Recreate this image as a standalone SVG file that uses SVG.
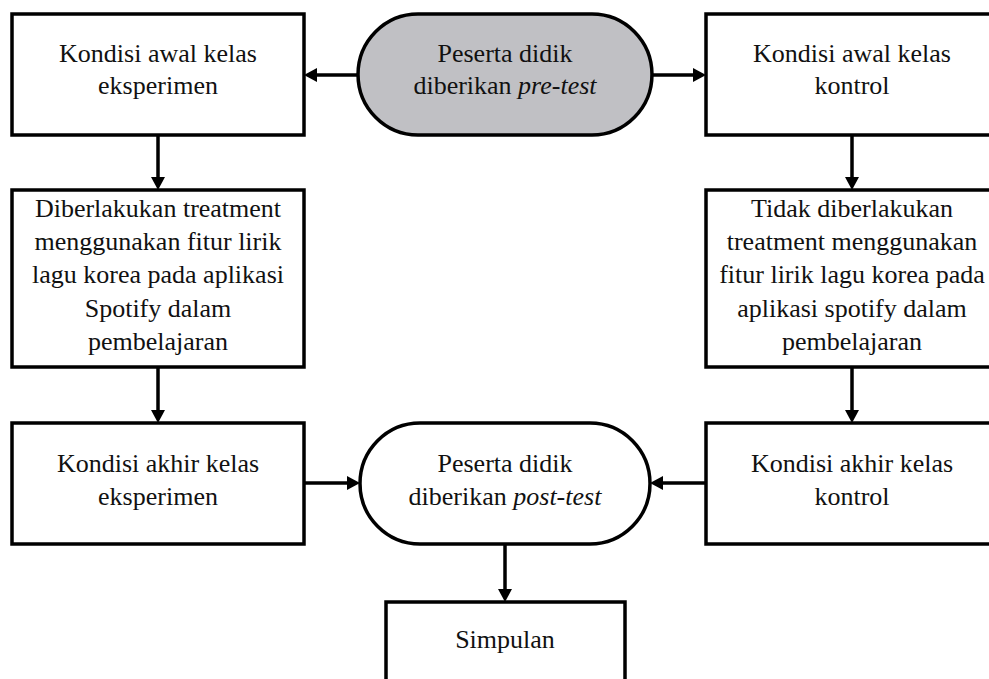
<svg xmlns="http://www.w3.org/2000/svg" width="989" height="679" viewBox="0 0 989 679">
<defs>
<marker id="ah" markerUnits="userSpaceOnUse" markerWidth="13" markerHeight="14" viewBox="0 -7 13 14" refX="1" refY="0" orient="auto">
<path d="M0,-7 L13,0 L0,7 z" fill="#000"/>
</marker>
<style>
.box{fill:#fff;stroke:#000;stroke-width:3.5}
.term{stroke:#000;stroke-width:3.5}
.t{font-family:'Liberation Serif','Times New Roman',serif;font-size:26px;fill:#111;text-anchor:middle}
.i{font-style:italic}
.c{stroke:#000;stroke-width:3.5;fill:none;marker-end:url(#ah)}
</style>
</defs>
<rect width="989" height="679" fill="#fff"/>
<g id="connectors">
<path class="c" d="M358,75 H316"/>
<path class="c" d="M652,75 H694"/>
<path class="c" d="M158,135 V178"/>
<path class="c" d="M852,135 V178"/>
<path class="c" d="M158,367 V411"/>
<path class="c" d="M852,367 V411"/>
<path class="c" d="M304,483 H348"/>
<path class="c" d="M706,483 H662"/>
<path class="c" d="M505,544 V590"/>
</g>
<g id="pretest">
<path class="term" fill="#c0c0c4" d="M418,14 H592 A60,60.5 0 0 1 592,135 H418 A60,60.5 0 0 1 418,14 z"/>
<text class="t" x="505" y="62">Peserta didik</text>
<text class="t" x="505" y="94">diberikan <tspan class="i">pre-test</tspan></text>
</g>
<g id="awal-eksperimen">
<rect class="box" x="12" y="14" width="292" height="121"/>
<text class="t" x="158" y="62">Kondisi awal kelas</text>
<text class="t" x="158" y="94">eksperimen</text>
</g>
<g id="awal-kontrol">
<rect class="box" x="706" y="14" width="300" height="121"/>
<text class="t" x="852" y="62">Kondisi awal kelas</text>
<text class="t" x="852" y="94">kontrol</text>
</g>
<g id="treatment">
<rect class="box" x="12" y="190" width="292" height="177"/>
<text class="t" x="158" y="217">Diberlakukan treatment</text>
<text class="t" x="158" y="250">menggunakan fitur lirik</text>
<text class="t" x="158" y="283">lagu korea pada aplikasi</text>
<text class="t" x="158" y="317">Spotify dalam</text>
<text class="t" x="158" y="350">pembelajaran</text>
</g>
<g id="no-treatment">
<rect class="box" x="706" y="190" width="300" height="177"/>
<text class="t" x="852" y="217">Tidak diberlakukan</text>
<text class="t" x="852" y="250">treatment menggunakan</text>
<text class="t" x="852" y="283">fitur lirik lagu korea pada</text>
<text class="t" x="852" y="317">aplikasi spotify dalam</text>
<text class="t" x="852" y="350">pembelajaran</text>
</g>
<g id="akhir-eksperimen">
<rect class="box" x="12" y="423" width="292" height="121"/>
<text class="t" x="158" y="472">Kondisi akhir kelas</text>
<text class="t" x="158" y="505">eksperimen</text>
</g>
<g id="posttest">
<path class="term" fill="#fff" d="M420,423 H590 A60,60.5 0 0 1 590,544 H420 A60,60.5 0 0 1 420,423 z"/>
<text class="t" x="505" y="472">Peserta didik</text>
<text class="t" x="505" y="505">diberikan <tspan class="i">post-test</tspan></text>
</g>
<g id="akhir-kontrol">
<rect class="box" x="706" y="423" width="300" height="121"/>
<text class="t" x="852" y="472">Kondisi akhir kelas</text>
<text class="t" x="852" y="505">kontrol</text>
</g>
<g id="simpulan">
<rect class="box" x="386" y="602" width="239" height="100"/>
<text class="t" x="505" y="648">Simpulan</text>
</g>
</svg>
